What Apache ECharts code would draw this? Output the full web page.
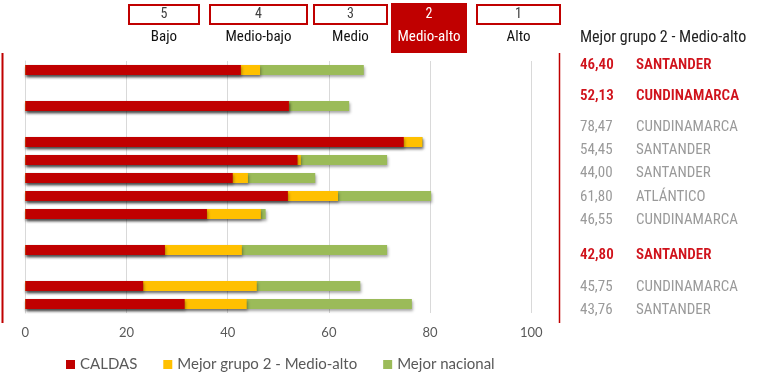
<!DOCTYPE html>
<html>
<head>
<meta charset="utf-8">
<script src="https://cdn.jsdelivr.net/npm/echarts@6/dist/echarts.min.js"></script>
<style>
  html, body { margin: 0; padding: 0; background: #fff; }
  #chart { width: 765px; height: 373px; }
</style>
</head>
<body>
<div id="chart"></div>
<script>
// Rows of the chart (top to bottom); empty slots separate groups of rows.
const rows = ['r1', 'g1', 'r2', 'g2', 'r3', 'r4', 'r5', 'r6', 'r7', 'g3', 'r8', 'g4', 'r9', 'r10'];
const caldas   = [42.6, null, 52.1, null, 74.8, 53.8, 41.0, 51.9, 35.9, null, 27.6, null, 23.3, 31.5];
const grupo2   = [46.40, null, 52.13, null, 78.47, 54.45, 44.00, 61.80, 46.55, null, 42.80, null, 45.75, 43.76];
const nacional = [66.9, null, 64.0, null, 78.47, 71.5, 57.3, 80.2, 47.5, null, 71.5, null, 66.2, 76.4];

// Department holding the best "grupo 2" value per row, and whether it is highlighted.
const grupo2Names = ['SANTANDER', 'CUNDINAMARCA', 'CUNDINAMARCA', 'SANTANDER', 'SANTANDER',
                     'ATLÁNTICO', 'CUNDINAMARCA', 'SANTANDER', 'CUNDINAMARCA', 'SANTANDER'];
const grupo2Highlight = [true, true, false, false, false, false, false, true, false, false];

// Header scale of groups.
const groupNumbers = ['5', '4', '3', '2', '1'];
const groupLabels  = ['Bajo', 'Medio-bajo', 'Medio', 'Medio-alto', 'Alto'];
const activeGroup  = 3;

const xTicks = [0, 20, 40, 60, 80, 100];

const seriesNames = ['CALDAS', 'Mejor grupo 2 - Medio-alto', 'Mejor nacional'];

// ---- layout ----
const RED = '#C00000', YELLOW = '#FFC000', GREEN = '#9BBB59';
const NARROW = '"Liberation Sans Narrow", "Arial Narrow", "Roboto Condensed", sans-serif';
const BODY = 'Lato, "Open Sans", sans-serif';
const headerBoxes = [[128, 72], [209, 99], [313, 75], [391, 76], [476, 85]];
const listY = [65, 96, 127, 150, 173, 197, 220, 255, 287, 310];

const fmt = v => v.toFixed(2).replace('.', ',');

const graphic = [];
// red cell borders left and right of the plot
graphic.push({ type: 'line', shape: { x1: 2.5, y1: 53, x2: 2.5, y2: 323 }, style: { stroke: RED, lineWidth: 2 } });
graphic.push({ type: 'line', shape: { x1: 559.5, y1: 53, x2: 559.5, y2: 323 }, style: { stroke: RED, lineWidth: 1.5 } });

groupNumbers.forEach((n, i) => {
  const [x, w] = headerBoxes[i];
  const active = i === activeGroup;
  if (active) {
    graphic.push({ type: 'rect', shape: { x: x, y: 3, width: w, height: 50 }, style: { fill: RED } });
  } else {
    graphic.push({ type: 'rect', shape: { x: x + 1, y: 5, width: w - 2, height: 19 }, style: { fill: '#fff', stroke: RED, lineWidth: 2 } });
  }
  graphic.push({ type: 'text', x: x + w / 2, y: 14.5, style: {
    text: n, fill: active ? '#fff' : '#404040', font: '14px ' + NARROW, align: 'center', verticalAlign: 'middle' } });
  graphic.push({ type: 'text', x: x + w / 2, y: 37, style: {
    text: groupLabels[i], fill: active ? '#fff' : '#111', font: '15px ' + NARROW, align: 'center', verticalAlign: 'middle' } });
});

graphic.push({ type: 'text', x: 580, y: 38, style: {
  text: 'Mejor grupo 2 - Medio-alto', fill: '#222', font: '16px ' + NARROW, verticalAlign: 'middle' } });

grupo2.filter(v => v !== null).forEach((v, i) => {
  const hi = grupo2Highlight[i];
  const col = hi ? '#D0121B' : '#9a9a9a';
  const w = hi ? '600 ' : '';
  graphic.push({ type: 'text', x: 580, y: listY[i], style: {
    text: fmt(v), fill: col, font: w + '15px ' + NARROW, verticalAlign: 'middle' } });
  graphic.push({ type: 'text', x: 636, y: listY[i], style: {
    text: grupo2Names[i], fill: col, font: w + '15px ' + NARROW, verticalAlign: 'middle' } });
});

const shadow = { shadowColor: 'rgba(0,0,0,0.35)', shadowBlur: 3, shadowOffsetX: 1, shadowOffsetY: 2 };

const chart = echarts.init(document.getElementById('chart'), null, { renderer: 'canvas' });
chart.setOption({
  animation: false,
  backgroundColor: '#fff',
  grid: { left: 25.3, right: 233.7, top: 61, bottom: 60, containLabel: false },
  xAxis: {
    type: 'value', min: xTicks[0], max: xTicks[xTicks.length - 1], interval: 20,
    axisLine: { show: false }, axisTick: { show: false },
    splitLine: { lineStyle: { color: '#d9d9d9', width: 1 } },
    axisLabel: { color: '#595959', fontSize: 13, fontFamily: BODY, margin: 13 }
  },
  yAxis: {
    type: 'category', data: rows, inverse: true,
    axisLine: { show: true, lineStyle: { color: '#d9d9d9' } },
    axisTick: { show: false }, axisLabel: { show: false }
  },
  legend: {
    data: seriesNames, left: 61, top: 352, itemGap: 26, itemWidth: 9, itemHeight: 9,
    icon: 'rect', textStyle: { color: '#595959', fontSize: 15, fontFamily: BODY }
  },
  series: [
    { name: seriesNames[2], type: 'bar', data: nacional, barWidth: 10, barGap: '-100%',
      itemStyle: Object.assign({ color: GREEN }, shadow) },
    { name: seriesNames[1], type: 'bar', data: grupo2, barWidth: 10, barGap: '-100%',
      itemStyle: Object.assign({ color: YELLOW }, shadow) },
    { name: seriesNames[0], type: 'bar', data: caldas, barWidth: 10, barGap: '-100%',
      itemStyle: Object.assign({ color: RED }, shadow) }
  ],
  graphic: graphic
});
</script>
</body>
</html>
